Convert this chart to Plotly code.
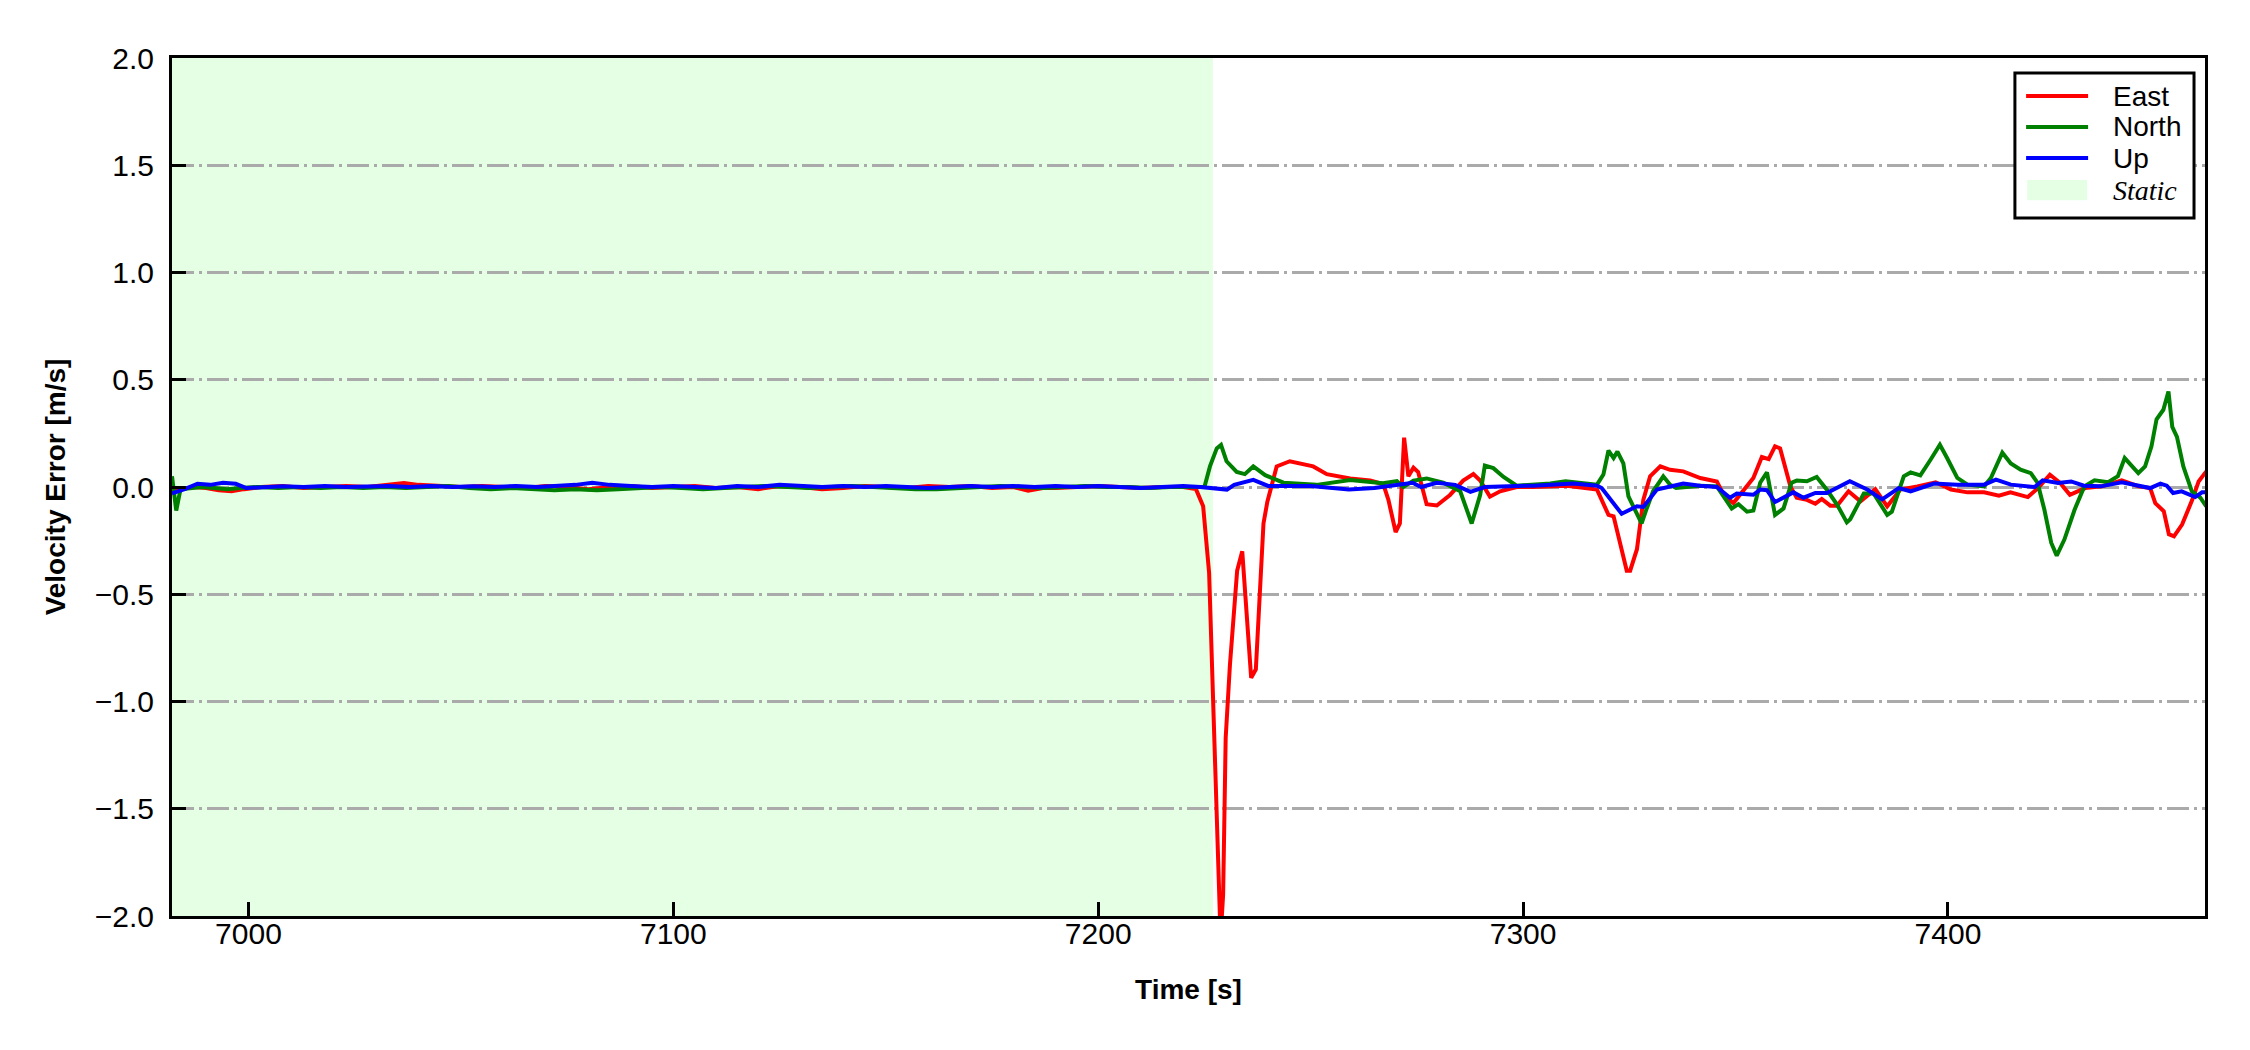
import plotly.graph_objects as go

# Velocity error (ENU) against time
east_t = [6982, 6984, 6987, 6990, 6993, 6996, 6999, 7003, 7008, 7013, 7018, 7023, 7028, 7033,
          7036.6, 7040, 7045, 7050, 7055, 7060, 7065, 7070, 7075, 7080, 7085, 7090, 7095, 7100,
          7105, 7110, 7115, 7120, 7125, 7130, 7135, 7140, 7145, 7150, 7155, 7160, 7165, 7170,
          7175, 7180, 7183.5, 7187, 7190, 7195, 7200, 7205, 7210, 7215, 7220, 7223,
          7224.7, 7226.1, 7227.0, 7228.3, 7228.8, 7229.4, 7230.0, 7231.0, 7232.7, 7233.9,
          7236.0, 7237.1, 7238.9, 7239.8, 7242.0, 7245.1, 7248.2, 7250.6, 7253.8, 7259.3,
          7264.0, 7267.1, 7268.3, 7270.0, 7271.0, 7272.0, 7273.0, 7274.2, 7275.3, 7277.3,
          7279.7, 7282.8, 7285.9, 7288.3, 7289.9, 7292.2, 7294.6, 7298.5, 7302.4, 7310.3,
          7317.4, 7318.9, 7320.1, 7321.3, 7324.4, 7325.2, 7326.8, 7328.3, 7329.9, 7332.3,
          7333.8, 7334.6, 7337.7, 7341.7, 7345.6, 7347.2, 7349.5, 7351.9, 7354.2, 7356.2,
          7357.8, 7359.3, 7360.5, 7362.9, 7364.4, 7366.8, 7368.8, 7370.3, 7372.3, 7373.9,
          7376.6, 7379.4, 7382.9, 7385.7, 7388.8, 7392.8, 7397.1, 7400.7, 7404.6, 7408.5,
          7412.0, 7414.7, 7418.8, 7421.2, 7424.0, 7426.4, 7428.7, 7432.3, 7436.2, 7440.9,
          7444.9, 7447.6, 7448.8, 7450.8, 7452.0, 7453.2, 7455.1, 7457.5, 7459.0, 7460.8]
east_v = [-0.02, -0.01, 0.0, -0.005, -0.015, -0.02, -0.01, 0.0, 0.005, -0.005, 0.0, 0.005, 0.0, 0.01,
          0.019, 0.01, 0.005, 0.0, 0.005, 0.0, -0.005, 0.005, 0.0, -0.01, 0.0, 0.005, -0.005, 0.0,
          0.005, -0.005, 0.0, -0.01, 0.005, 0.0, -0.01, -0.005, 0.005, 0.0, -0.005, 0.005, 0.0, 0.005,
          -0.005, 0.0, -0.017, -0.005, -0.005, 0.0, 0.005, 0.0, -0.005, 0.0, 0.0, -0.01,
          -0.09, -0.40, -1.0, -1.9, -2.1, -1.9, -1.17, -0.83, -0.39, -0.30,
          -0.89, -0.85, -0.17, -0.07, 0.096, 0.12, 0.105, 0.096, 0.06, 0.04,
          0.03, 0.013, -0.06, -0.21, -0.17, 0.23, 0.05, 0.09, 0.07, -0.08,
          -0.086, -0.037, 0.03, 0.06, 0.03, -0.045, -0.02, 0.0, 0.0, 0.006,
          -0.012, -0.075, -0.13, -0.137, -0.39, -0.39, -0.29, -0.06, 0.05, 0.096,
          0.088, 0.08, 0.073, 0.042, 0.026, -0.036, -0.075, -0.012, 0.042, 0.14,
          0.13, 0.19, 0.18, 0.003, -0.05, -0.06, -0.078, -0.056, -0.087, -0.087,
          -0.02, -0.067, -0.01, -0.09, -0.012, 0.003, 0.022, -0.012, -0.025, -0.025,
          -0.04, -0.025, -0.047, -0.005, 0.057, 0.019, -0.036, -0.005, 0.003, 0.031,
          0.003, -0.005, -0.075, -0.113, -0.22, -0.23, -0.175, -0.06, 0.026, 0.073]

north_t = [6982, 6983, 6984, 6986, 6989, 6992, 6995, 6998, 7002, 7007, 7012, 7017, 7022, 7027,
           7032, 7037, 7042, 7047, 7052, 7057, 7062, 7067, 7072, 7077, 7082, 7087, 7092, 7097,
           7102, 7107, 7112, 7117, 7122, 7127, 7132, 7137, 7142, 7147, 7152, 7157, 7162, 7167,
           7172, 7177, 7182, 7187, 7192, 7197, 7202, 7207, 7212, 7217, 7222,
           7225.0, 7226.3, 7227.9, 7228.9, 7230.2, 7232.6, 7234.5, 7236.5, 7239.3, 7243.6,
           7251.4, 7259.3, 7267.0, 7270.3, 7271.8, 7274.2, 7277.3, 7281.2, 7285.2, 7287.9,
           7289.9, 7291.0, 7293.0, 7295.4, 7298.5, 7306.4, 7310.0, 7317.4, 7318.9, 7320.1,
           7321.3, 7322.2, 7323.6, 7324.8, 7326.4, 7327.9, 7329.1, 7330.6, 7333.0, 7334.6,
           7336.0, 7341.7, 7345.6, 7347.6, 7349.1, 7350.7, 7352.7, 7354.2, 7355.8, 7357.4,
           7359.3, 7361.3, 7363.2, 7364.4, 7366.8, 7369.1, 7371.5, 7373.9, 7376.2, 7377.0,
           7380.2, 7382.5, 7384.1, 7385.7, 7386.8, 7389.6, 7391.2, 7393.5, 7395.9, 7398.1,
           7399.8, 7402.2, 7404.6, 7408.5, 7410.1, 7412.8, 7414.8, 7417.1, 7419.5, 7421.1,
           7422.7, 7424.3, 7425.6, 7427.4, 7429.8, 7432.1, 7434.5, 7437.7, 7440.0, 7441.6,
           7444.8, 7446.4, 7447.9, 7449.1, 7450.7, 7451.9, 7452.8, 7453.9, 7455.4, 7457.4,
           7459.4, 7460.8]
north_v = [0.05, -0.11, -0.01, -0.005, 0.0, -0.005, -0.01, -0.005, 0.0, -0.005, 0.0, -0.005, 0.0, -0.005,
           0.0, -0.005, 0.0, 0.005, -0.005, -0.01, -0.005, -0.01, -0.015, -0.01, -0.015, -0.01, -0.005, 0.0,
           -0.005, -0.01, -0.005, 0.0, 0.005, 0.0, -0.005, 0.0, 0.005, 0.0, -0.005, -0.01, -0.01, -0.005,
           0.0, 0.005, 0.0, -0.005, 0.0, 0.005, 0.0, 0.0, -0.005, 0.0, 0.0,
           0.0, 0.096, 0.18, 0.196, 0.12, 0.07, 0.06, 0.096, 0.055, 0.02,
           0.01, 0.033, 0.017, 0.027, 0.0, 0.03, 0.04, 0.02, -0.02, -0.17,
           -0.037, 0.1, 0.088, 0.047, 0.006, 0.016, 0.027, 0.011, 0.058, 0.17,
           0.135, 0.165, 0.11, -0.044, -0.114, -0.17, -0.1, -0.02, 0.05, 0.011,
           -0.005, 0.006, 0.003, -0.06, -0.1, -0.08, -0.115, -0.11, 0.02, 0.068,
           -0.13, -0.1, 0.02, 0.03, 0.027, 0.047, -0.013, -0.082, -0.165, -0.15,
           -0.03, -0.03, -0.08, -0.13, -0.115, 0.05, 0.068, 0.054, 0.127, 0.197,
           0.135, 0.042, 0.011, 0.003, 0.042, 0.16, 0.11, 0.081, 0.065, 0.019,
           -0.106, -0.26, -0.32, -0.245, -0.106, 0.003, 0.031, 0.022, 0.05, 0.135,
           0.065, 0.096, 0.19, 0.316, 0.36, 0.445, 0.28, 0.234, 0.096, -0.02,
           -0.05, -0.09]

up_t = [6982, 6985, 6988, 6991, 6994, 6997, 6999.5, 7003, 7008, 7013, 7018, 7023, 7028, 7033,
        7038, 7043, 7048, 7053, 7058, 7063, 7068, 7073, 7077, 7080.9, 7085, 7090, 7095, 7100,
        7105, 7110, 7115, 7120, 7125, 7130, 7135, 7140, 7145, 7150, 7155, 7160, 7165, 7170,
        7175, 7180, 7185, 7190, 7195, 7200, 7205, 7210, 7215, 7220, 7224,
        7230.3, 7232.0, 7236.5, 7240.0, 7250.0, 7259.0, 7265.0, 7274.0, 7276.0, 7279.7,
        7284.0, 7287.6, 7291.0, 7298.5, 7302.4, 7311.8, 7317.4, 7318.5, 7323.2, 7326.8,
        7328.3, 7331.5, 7337.7, 7341.7, 7345.6, 7348.7, 7350.3, 7354.2, 7355.8, 7357.4,
        7359.3, 7363.6, 7366.0, 7368.8, 7371.5, 7376.9, 7379.0, 7381.0, 7384.5, 7388.4,
        7391.2, 7396.7, 7402.2, 7408.5, 7411.3, 7414.8, 7420.4, 7422.3, 7425.9, 7429.0,
        7432.0, 7436.0, 7440.9, 7444.8, 7447.6, 7450.0, 7451.5, 7453.0, 7455.0, 7458.2,
        7459.8, 7460.8]
up_v = [-0.03, -0.01, 0.015, 0.01, 0.02, 0.015, -0.005, 0.0, 0.003, 0.0, 0.005, 0.0, 0.003, 0.005,
        0.0, 0.005, 0.0, 0.003, 0.0, 0.005, 0.0, 0.005, 0.01, 0.02, 0.01, 0.005, 0.0, 0.005,
        0.0, -0.005, 0.005, 0.0, 0.01, 0.005, 0.0, 0.005, 0.0, 0.005, 0.0, -0.005, 0.0, 0.005,
        0.0, 0.005, 0.0, 0.005, 0.0, 0.005, 0.0, -0.005, 0.0, 0.005, 0.0,
        -0.012, 0.01, 0.033, 0.005, 0.005, -0.012, -0.005, 0.02, 0.0, 0.02,
        0.01, -0.023, 0.0, 0.005, 0.006, 0.016, 0.006, -0.005, -0.125, -0.09,
        -0.093, -0.012, 0.016, 0.006, 0.0, -0.05, -0.03, -0.036, -0.012, -0.015,
        -0.07, -0.025, -0.05, -0.028, -0.028, 0.027, 0.006, -0.012, -0.058, -0.005,
        -0.02, 0.016, 0.011, 0.011, 0.034, 0.011, 0.0, 0.031, 0.019, 0.026,
        0.006, 0.003, 0.022, 0.006, -0.005, 0.016, 0.006, -0.028, -0.02, -0.047,
        -0.025, -0.025]

series_names = ["East", "North", "Up"]
series_colors = ["#ff0000", "#008000", "#0000ff"]
static_label = "Static"
static_span = [6975, 7227]   # static (zero-velocity) interval [s]
x_range = [6982, 7460.5]
y_range = [-2.0, 2.0]

FONT = "Liberation Sans, Arial, sans-serif"
SERIF = "Liberation Serif, Times New Roman, serif"
STATIC_COLOR = "rgba(0,255,0,0.1)"   # lime at alpha 0.1, grid shows through
GRID_DASH = "22px,5px,3px,5px"

fig = go.Figure()

# static interval band (translucent, like axvspan with alpha)
fig.add_shape(type="rect", xref="x", yref="y",
              x0=static_span[0], x1=static_span[1], y0=y_range[0], y1=y_range[1],
              fillcolor=STATIC_COLOR, line=dict(width=0), layer="below")

for t, v, name, color in zip([east_t, north_t, up_t], [east_v, north_v, up_v],
                             series_names, series_colors):
    fig.add_trace(go.Scatter(x=t, y=v, mode="lines", name=name, showlegend=False,
                             line=dict(color=color, width=4)))

# matplotlib-style legend box in the upper right corner (paper coords)
box = dict(x0=0.9065, x1=0.9946, y0=0.8135, y1=0.9825)
row_y = [0.9557, 0.9196, 0.8834, 0.8460]
sample_x = [0.912, 0.9425]
text_x = 0.9538
fig.add_shape(type="rect", xref="paper", yref="paper", **box,
              fillcolor="white", line=dict(color="black", width=3), layer="above")
for name, color, ry in zip(series_names, series_colors, row_y):
    fig.add_shape(type="line", xref="paper", yref="paper",
                  x0=sample_x[0], x1=sample_x[1], y0=ry, y1=ry,
                  line=dict(color=color, width=4), layer="above")
    fig.add_annotation(xref="paper", yref="paper", x=text_x, y=ry, text=name,
                       showarrow=False, xanchor="left", yanchor="middle",
                       font=dict(family=FONT, size=28, color="black"))
fig.add_shape(type="rect", xref="paper", yref="paper",
              x0=sample_x[0] + 0.0005, x1=sample_x[1] - 0.0005,
              y0=row_y[3] - 0.0117, y1=row_y[3] + 0.0117,
              fillcolor=STATIC_COLOR, line=dict(width=0), layer="above")
fig.add_annotation(xref="paper", yref="paper", x=text_x, y=row_y[3], text="<i>" + static_label + "</i>",
                   showarrow=False, xanchor="left", yanchor="middle",
                   font=dict(family=SERIF, size=28, color="black"))

fig.update_layout(
    width=2250, height=1050,
    margin=dict(l=164, r=53, t=50, b=142),
    paper_bgcolor="white", plot_bgcolor="white",
    font=dict(family=FONT, size=30, color="black"),
    showlegend=False,
)

fig.update_xaxes(
    range=x_range, tick0=7000, dtick=100,
    showline=True, linecolor="black", linewidth=3, mirror=True,
    ticks="inside", ticklen=14, tickwidth=3, tickcolor="black",
    showgrid=False, zeroline=False,
    tickfont=dict(family=FONT, size=30), ticklabelstandoff=-11,
    title=dict(text="<b>Time [s]</b>", font=dict(family=FONT, size=28), standoff=31),
)
fig.update_yaxes(
    range=y_range, dtick=0.5, tickformat=".1f",
    showline=True, linecolor="black", linewidth=3, mirror=True,
    ticks="inside", ticklen=14, tickwidth=3, tickcolor="black",
    showgrid=True, gridcolor="#aaaaaa", gridwidth=3, griddash=GRID_DASH,
    zeroline=False,
    tickfont=dict(family=FONT, size=30), ticklabelstandoff=9,
    title=dict(text="<b>Velocity Error [m/s]</b>", font=dict(family=FONT, size=28), standoff=21),
)

fig.write_html("out.html")
